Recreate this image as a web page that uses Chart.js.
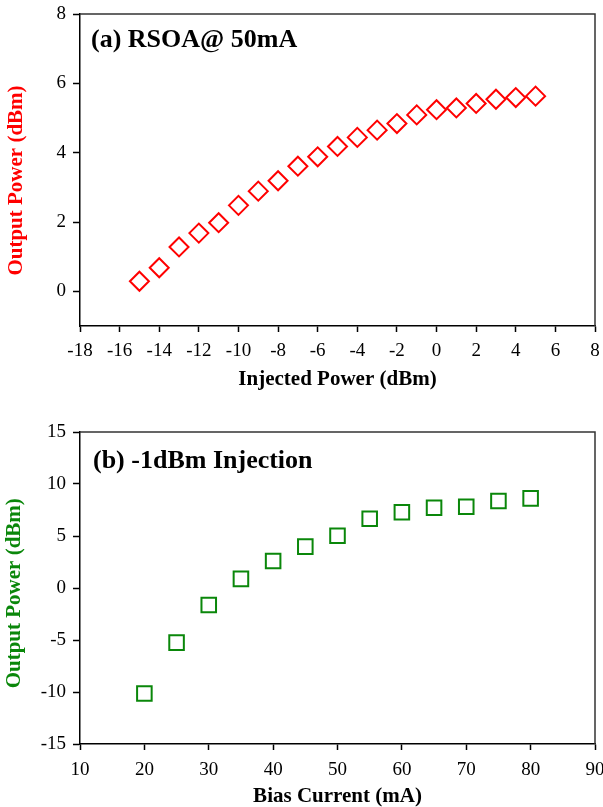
<!DOCTYPE html>
<html>
<head>
<meta charset="utf-8">
<script src="https://cdn.jsdelivr.net/npm/chart.js@4.4.0/dist/chart.umd.min.js"></script>
<style>
    html, body { margin: 0; padding: 0; background: #fff; }
    .panel { position: relative; width: 603px; }
    canvas { display: block; }
</style>
</head>
<body>
<div class="panel" style="height:400px"><canvas id="chartA" width="603" height="400"></canvas></div>
<div class="panel" style="height:407px"><canvas id="chartB" width="603" height="407"></canvas></div>
<script>
// Panel (a): output power vs injected power, RSOA @ 50mA
const injectedPower = [-15, -14, -13, -12, -11, -10, -9, -8, -7, -6, -5, -4, -3, -2, -1, 0, 1, 2, 3, 4, 5];
const outputPowerA = [0.29, 0.68, 1.28, 1.68, 1.98, 2.48, 2.89, 3.19, 3.61, 3.88, 4.18, 4.44, 4.65, 4.84, 5.09, 5.24, 5.29, 5.42, 5.54, 5.59, 5.63];
const ticksXA = [-18, -16, -14, -12, -10, -8, -6, -4, -2, 0, 2, 4, 6, 8];
const ticksYA = [0, 2, 4, 6, 8];

// Panel (b): output power vs bias current, -1dBm injection
const biasCurrent = [20, 25, 30, 35, 40, 45, 50, 55, 60, 65, 70, 75, 80];
const outputPowerB = [-10.15, -5.25, -1.63, 0.88, 2.6, 3.98, 5.03, 6.66, 7.28, 7.72, 7.82, 8.37, 8.62];
const ticksXB = [10, 20, 30, 40, 50, 60, 70, 80, 90];
const ticksYB = [-15, -10, -5, 0, 5, 10, 15];

const serif = "'Liberation Serif', 'Times New Roman', serif";

// dibuja el marco superior/derecho y el rótulo del panel
const panelFrame = {
    id: 'panelFrame',
    afterDraw(chart, args, opts) {
        const {ctx, chartArea} = chart;
        ctx.save();
        ctx.strokeStyle = '#333';
        ctx.lineWidth = 1.5;
        ctx.beginPath();
        ctx.moveTo(chartArea.left, chartArea.top);
        ctx.lineTo(chartArea.right, chartArea.top);
        ctx.lineTo(chartArea.right, chartArea.bottom);
        ctx.stroke();
        ctx.fillStyle = '#000';
        ctx.font = 'bold 26px ' + serif;
        ctx.textBaseline = 'middle';
        ctx.textAlign = 'left';
        ctx.fillText(opts.label, chartArea.left + opts.dx, chartArea.top + opts.dy);
        ctx.restore();
    }
};

function makeScales(cfg) {
    return {
        x: {
            type: 'linear',
            min: cfg.xMin,
            max: cfg.xMax,
            afterBuildTicks: s => { s.ticks = cfg.xTicks.map(v => ({value: v})); },
            afterFit: s => { s.height = cfg.xHeight; s.paddingLeft = 0; s.paddingRight = 0; },
            grid: { drawOnChartArea: false, drawTicks: true, tickLength: 6, tickWidth: 1.5, tickColor: '#000' },
            border: { display: true, color: '#000', width: 1.5 },
            ticks: { color: '#000', padding: cfg.xPad, font: { family: serif, size: 19 } },
            title: {
                display: true,
                text: cfg.xTitle,
                color: '#000',
                font: { family: serif, size: 21, weight: 'bold', lineHeight: 1 },
                padding: { top: 0, bottom: cfg.xTitlePad }
            }
        },
        y: {
            type: 'linear',
            min: cfg.yMin,
            max: cfg.yMax,
            afterBuildTicks: s => { s.ticks = cfg.yTicks.map(v => ({value: v})); },
            afterFit: s => { s.width = 80; s.paddingTop = 0; s.paddingBottom = 0; },
            grid: { drawOnChartArea: false, drawTicks: true, tickLength: 7, tickWidth: 1.5, tickColor: '#000' },
            border: { display: true, color: '#000', width: 1.5 },
            ticks: { color: '#000', padding: 7, font: { family: serif, size: 19 } },
            title: {
                display: true,
                text: cfg.yTitle,
                color: cfg.color,
                font: { family: serif, size: 21, weight: 'bold', lineHeight: 1 },
                padding: { top: cfg.yTitlePad, bottom: 0 }
            }
        }
    };
}

new Chart(document.getElementById('chartA').getContext('2d'), {
    type: 'scatter',
    data: {
        datasets: [{
            data: injectedPower.map((x, i) => ({x: x, y: outputPowerA[i]})),
            pointStyle: 'rectRot',
            pointRadius: 9.5,
            pointHoverRadius: 9.5,
            pointBorderWidth: 2,
            borderColor: '#ff0000',
            backgroundColor: 'rgba(0,0,0,0)'
        }]
    },
    options: {
        responsive: false,
        animation: false,
        events: [],
        layout: { autoPadding: false, padding: { left: 0, right: 8, top: 14, bottom: 0 } },
        scales: makeScales({
            xMin: -18, xMax: 8, yMin: -1, yMax: 8,
            xTicks: ticksXA, yTicks: ticksYA,
            xHeight: 74, xPad: 7.5, xTitlePad: 9.5, yTitlePad: 6.5,
            xTitle: 'Injected Power (dBm)',
            yTitle: 'Output Power (dBm)\u00a0\u00a0\u00a0\u00a0',
            color: '#ff0000'
        }),
        plugins: {
            legend: { display: false },
            tooltip: { enabled: false },
            panelFrame: { label: '(a) RSOA@ 50mA', dx: 11, dy: 26 }
        }
    },
    plugins: [panelFrame]
});

new Chart(document.getElementById('chartB').getContext('2d'), {
    type: 'scatter',
    data: {
        datasets: [{
            data: biasCurrent.map((x, i) => ({x: x, y: outputPowerB[i]})),
            pointStyle: 'rect',
            pointRadius: 10.3,
            pointHoverRadius: 10.3,
            pointBorderWidth: 2,
            borderColor: '#0a870a',
            backgroundColor: 'rgba(0,0,0,0)'
        }]
    },
    options: {
        responsive: false,
        animation: false,
        events: [],
        layout: { autoPadding: false, padding: { left: 0, right: 8, top: 32, bottom: 0 } },
        scales: makeScales({
            xMin: 10, xMax: 90, yMin: -15, yMax: 15,
            xTicks: ticksXB, yTicks: ticksYB,
            xHeight: 63, xPad: 8.5, xTitlePad: 0, yTitlePad: 4.5,
            xTitle: 'Bias Current (mA)',
            yTitle: 'Output Power (dBm)\u00a0\u00a0',
            color: '#0a870a'
        }),
        plugins: {
            legend: { display: false },
            tooltip: { enabled: false },
            panelFrame: { label: '(b) -1dBm Injection', dx: 13, dy: 29 }
        }
    },
    plugins: [panelFrame]
});
</script>
</body>
</html>
